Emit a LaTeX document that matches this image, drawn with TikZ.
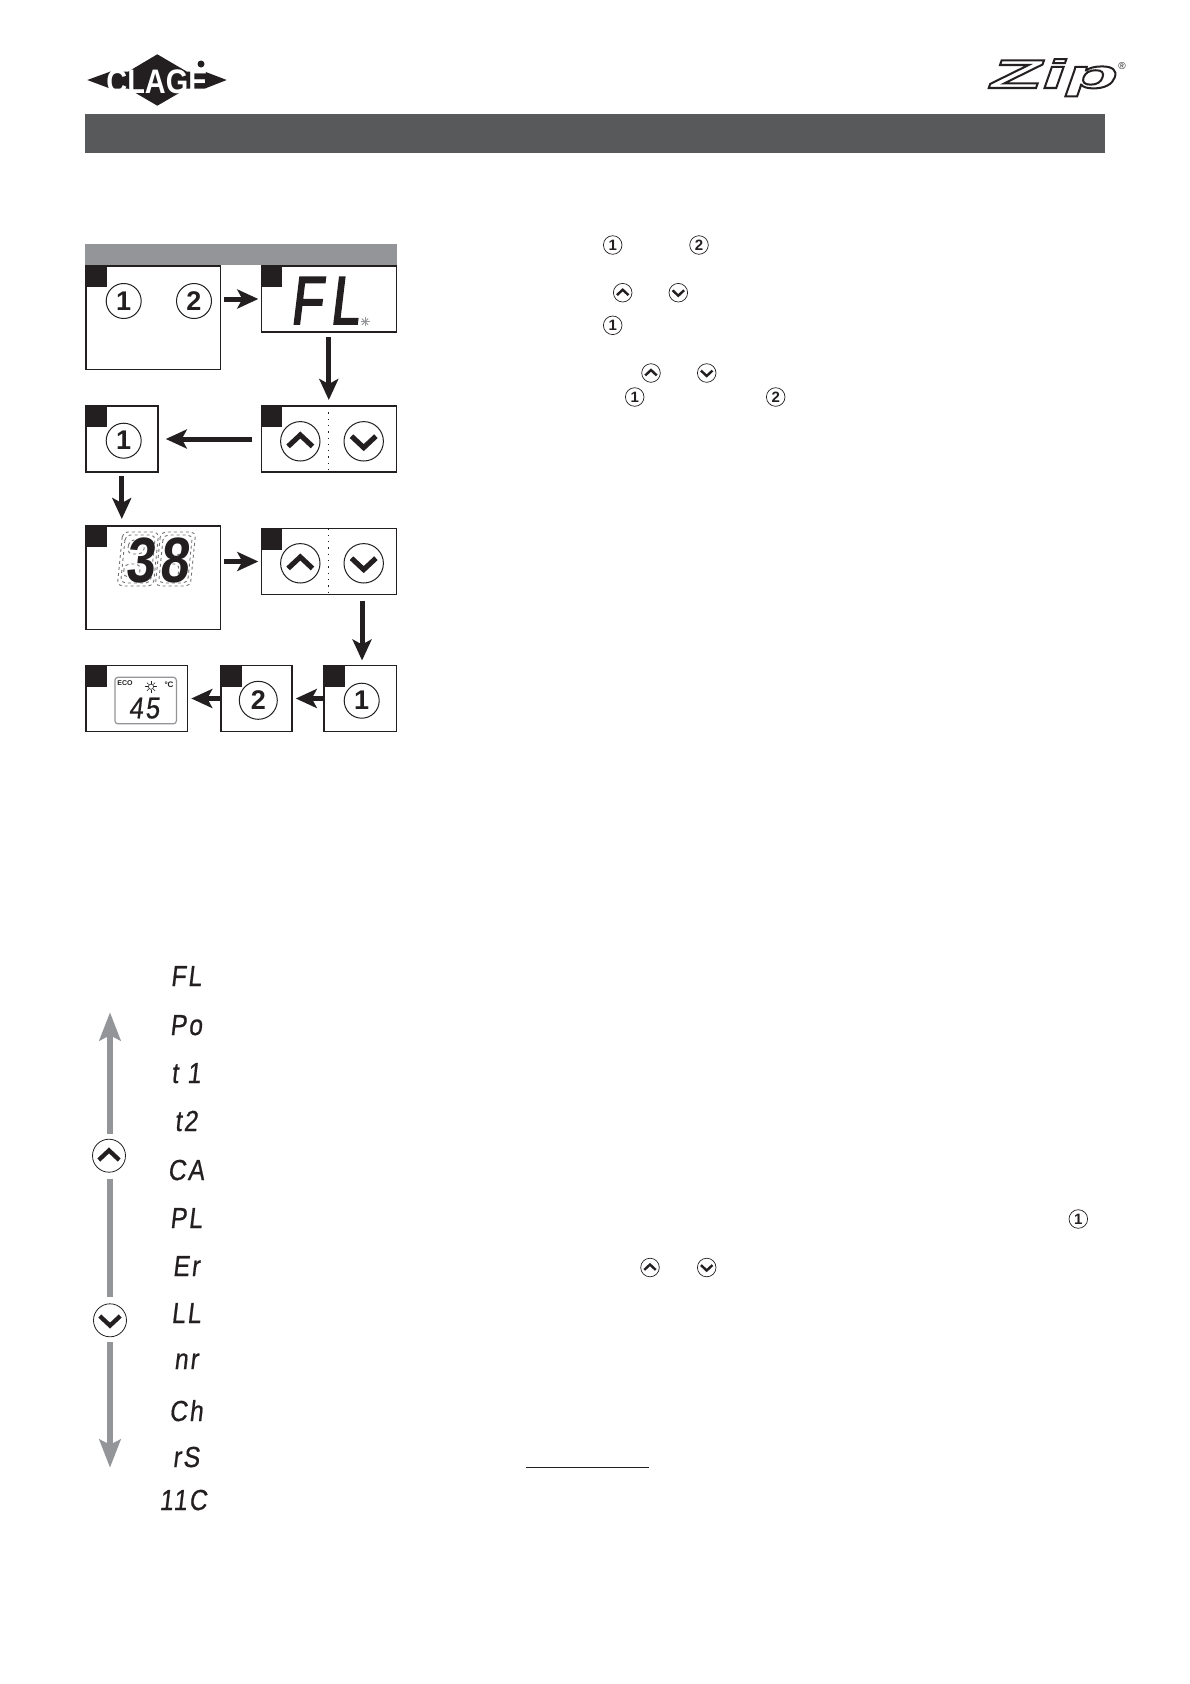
\documentclass[tikz,border=0pt]{standalone}
\usepackage{fontspec}
\usepackage{xcolor}
\usepackage{tikz}
\usetikzlibrary{arrows.meta, positioning, calc}
\setmainfont{Liberation Sans}
\newfontfamily\segfont[FakeStretch=0.85,LetterSpace=7,FakeSlant=0.12,FakeBold=0.6]{Liberation Sans}
\newfontfamily\seglarge[FakeStretch=0.76,LetterSpace=12,FakeSlant=0.12,FakeBold=2.6]{Liberation Sans}
\newfontfamily\segheavy[FakeStretch=0.82,LetterSpace=8,FakeSlant=0.1]{Liberation Sans Bold}
\newfontfamily\clagefont[FakeStretch=0.85]{Liberation Sans Bold}
\newfontfamily\zipfont[FakeStretch=2.14,FakeSlant=0.35,FakeBold=5]{Liberation Sans Bold}
\definecolor{inkblack}{HTML}{231F20}
\definecolor{barslate}{HTML}{58595B}
\definecolor{bargrey}{HTML}{939598}

\begin{document}
\begin{tikzpicture}[
    x=1pt, y=-1pt,
    panel/.style={rectangle, draw=inkblack, line width=1.5pt, fill=white, outer sep=0pt, inner sep=0pt, minimum width=#1, anchor=north west},
    tabmark/.style={rectangle, fill=inkblack, minimum size=21pt, inner sep=0pt, outer sep=0pt, anchor=north west},
    bar/.style={rectangle, inner sep=0pt, outer sep=0pt, anchor=north west},
    bignum/.style={circle, draw=inkblack, line width=1pt, inner sep=0pt, minimum size=35pt, text=inkblack, font=\fontsize{27}{27}\selectfont\bfseries},
    smallnum/.style={circle, draw=inkblack, line width=0.7pt, inner sep=0pt, minimum size=18.6pt, text=inkblack, font=\fontsize{15}{15}\selectfont\bfseries},
    keyup/.style={circle, draw=inkblack, line width=0.8pt, inner sep=0pt, minimum size=#1, path picture={
        \draw[inkblack, line width=0.13*#1] ([shift={(-.31*#1,-.13*#1)}]path picture bounding box.center) -- ([shift={(0,.16*#1)}]path picture bounding box.center) -- ([shift={(.31*#1,-.13*#1)}]path picture bounding box.center);}},
    keydown/.style={circle, draw=inkblack, line width=0.8pt, inner sep=0pt, minimum size=#1, path picture={
        \draw[inkblack, line width=0.13*#1] ([shift={(-.31*#1,.13*#1)}]path picture bounding box.center) -- ([shift={(0,-.16*#1)}]path picture bounding box.center) -- ([shift={(.31*#1,.13*#1)}]path picture bounding box.center);}},
    seglabel/.style={anchor=base, inner sep=0pt, text=inkblack, font=\fontsize{29}{29}\selectfont\segfont},
    arrow/.style={-{Stealth[length=21pt, width=19pt, inset=5pt]}, line width=5pt, draw=inkblack},
    greyarrow/.style={-{Stealth[length=28pt, width=21pt, inset=5pt]}, line width=6pt, draw=bargrey},
    greystem/.style={line width=6pt, draw=bargrey}
]

\useasboundingbox (0,0) rectangle (1190,1684);

% logos
\fill[inkblack] (87.3,80) -- (110,71.7) -- (128,71.7) -- (157.3,54.3) -- (187,71.7) -- (205,71.7) -- (226.7,80) -- (205,88.5) -- (187,88.5) -- (157.3,105.7) -- (128,88.5) -- (110,88.5) -- cycle;
\node[draw=none, fill=inkblack, inner sep=0pt, minimum size=7pt, circle] (clagedot) at (201,64) {};
\node[inner sep=0pt, text=white, font=\fontsize{34}{34}\selectfont\clagefont] (clage) at (157,82) {CLAGE};
\node[inner sep=0pt, anchor=base west, font=\fontsize{40}{40}\selectfont\zipfont] (zip) at (986,88) {\color{white}\special{pdf:code 0.14 0.12 0.13 RG}Zip};
\node[inner sep=0pt, text=inkblack, font=\fontsize{10}{10}\selectfont] (zipreg) at (1122,66) {®};

% bars
\node[bar, fill=barslate, minimum width=1020pt, minimum height=39pt] (header) at (85,114) {};
\node[bar, fill=bargrey, minimum width=312pt, minimum height=21pt] (stepbar) at (85,244) {};

% sequence of panels
\node[panel=134.5pt, minimum height=103.5pt] (s1) at (85.8,266) {};
\node[panel=135pt, minimum height=66pt, right=41pt of s1.north east, anchor=north west] (s2) {};
\node[panel=72pt, minimum height=66pt, below=36.5pt of s1.south west, anchor=north west] (s3) {};
\node[panel=135pt, minimum height=66pt, below=74pt of s2.south west, anchor=north west] (s4) {};
\node[panel=134.5pt, minimum height=103.5pt, below=54pt of s3.south west, anchor=north west] (s5) {};
\node[panel=135pt, minimum height=66pt, below=56.5pt of s4.south west, anchor=north west] (s6) {};
\node[panel=72.5pt, minimum height=66pt, below=71pt of s6.south east, anchor=north east] (s9) {};
\node[panel=71pt, minimum height=66pt, left=32pt of s9.north west, anchor=north east] (s8) {};
\node[panel=101.5pt, minimum height=66pt, left=33.5pt of s8.north west, anchor=north east] (s7) {};
\foreach \b in {s1,s2,s3,s4,s5,s6,s7,s8,s9}
    \node[tabmark] (tab\b) at (\b.north west) {};

% panel contents
\node[bignum] (s1one) at (123.7,301) {1};
\node[bignum] (s1two) at (194,301) {2};
\node[anchor=base, inner sep=0pt, text=inkblack, font=\fontsize{68}{68}\selectfont\seglarge] (s2text) at (324.5,324) {FL};
\foreach \a in {0,45,...,315}
    \draw[bargrey, line width=0.8pt] (365,321.7) -- ++(\a:4.5);
\node[bignum] (s3one) at (123.7,440.7) {1};
\node[keyup=39.4pt, line width=1pt] (s4up) at (300.3,441.3) {};
\node[keydown=39.4pt, line width=1pt] (s4down) at (363.7,441.3) {};
\draw[inkblack, line width=1.2pt, dash pattern=on 1.3pt off 5pt] (s4.north) -- (s4.south);
\begin{scope}[shift={(157,559)}, xslant=.1, draw=black!55, line width=0.9pt, dashed, rounded corners=5pt]
    \foreach \o in {0,3} {
        \draw (-37+\o,-27+\o) rectangle (-1-\o,27-\o);
        \draw (1+\o,-27+\o) rectangle (36-\o,27-\o);
    }
    \draw (9,-19) rectangle (25,-4);
    \draw (7,5) rectangle (23,19);
    \draw (-30,-19) rectangle (-14,-5);
    \draw (-32,5) rectangle (-16,18);
\end{scope}
\node[anchor=base, inner sep=0pt, text=inkblack, font=\fontsize{64}{64}\selectfont\segheavy] (s5text) at (157,582) {38};
\node[keyup=39.4pt, line width=1pt] (s6up) at (300.3,563.3) {};
\node[keydown=39.4pt, line width=1pt] (s6down) at (363.7,563.3) {};
\draw[inkblack, line width=1.2pt, dash pattern=on 1.3pt off 5pt] (s6.north) -- (s6.south);
\node[rectangle, draw=bargrey, line width=1.2pt, rounded corners=3pt, minimum width=61.5pt, minimum height=46.5pt, inner sep=0pt, anchor=north west] (lcd) at (114.3,676.7) {};
\node[inner sep=0pt, text=inkblack, font=\fontsize{7}{7}\selectfont\bfseries] (lcdeco) at (125,683.3) {ECO};
\foreach \a in {0,45,...,315}
    \draw[inkblack, line width=0.6pt] (151,686.7) ++(\a:3.2) -- ++(\a:2.6);
\draw[inkblack, line width=0.6pt] (151,686.7) circle (2.6);
\node[inner sep=0pt, text=inkblack, font=\fontsize{8}{8}\selectfont\bfseries] (lcdunit) at (169,685) {°C};
\node[anchor=base, inner sep=0pt, text=inkblack, font=\fontsize{30}{30}\selectfont\segfont] (lcdtemp) at (144,718.3) {45};
\node[bignum, minimum size=38pt] (s8two) at (258.3,700.3) {2};
\node[bignum] (s9one) at (361.7,700.7) {1};

% connectors
\draw[arrow, shorten <=4pt, shorten >=3pt] (s1.east |- s2.west) -- (s2.west);
\draw[arrow, shorten <=5pt, shorten >=6pt] (s2.south) -- (s4.north);
\draw[arrow, shorten <=9pt, shorten >=8pt] (s4.west) -- (s3.east);
\draw[arrow, shorten <=4pt, shorten >=7pt] (s3.south) -- (s3.south |- s5.north);
\draw[arrow, shorten <=4pt, shorten >=3pt] (s5.east |- s6.west) -- (s6.west);
\draw[arrow, shorten <=6pt, shorten >=5pt] ([xshift=2pt]s9.north |- s6.south) -- ([xshift=2pt]s9.north);
\draw[arrow, shorten >=4pt] (s9.west) -- (s8.east);
\draw[arrow, shorten >=4pt] (s8.west) -- (s7.east);

% right column keys
\node[smallnum] (t1one) at (612.7,245) {1};
\node[smallnum] (t1two) at (699,245) {2};
\node[keyup=18.6pt, line width=0.7pt] (t2up) at (622.7,292.7) {};
\node[keydown=18.6pt, line width=0.7pt] (t2down) at (678.3,292.7) {};
\node[smallnum] (t3one) at (612.7,325.3) {1};
\node[keyup=18.6pt, line width=0.7pt] (t4up) at (651,373) {};
\node[keydown=18.6pt, line width=0.7pt] (t4down) at (706.7,373) {};
\node[smallnum] (t5one) at (634.7,397) {1};
\node[smallnum] (t5two) at (775.7,397) {2};
\node[smallnum] (m1one) at (1078.3,1219) {1};
\node[keyup=18.6pt, line width=0.7pt] (m2up) at (650,1267.5) {};
\node[keydown=18.6pt, line width=0.7pt] (m2down) at (706.7,1267.5) {};

% menu arrows
\node[keyup=33pt] (menuup) at (109,1155.7) {};
\node[keydown=33pt] (menudown) at (110,1320.3) {};
\coordinate (menutop) at (110,1012.3);
\coordinate (menubottom) at (110,1467.7);
\draw[greyarrow, shorten <=5pt] (menutop |- menuup.north) -- (menutop);
\draw[greystem, shorten <=6pt, shorten >=6pt] (menutop |- menuup.south) -- (menutop |- menudown.north);
\draw[greyarrow, shorten <=5pt] (menudown.south) -- (menubottom);

% menu labels
\node[seglabel] (mfl) at (186,986) {FL};
\node[seglabel] (mpo) at (186,1035) {Po};
\node[seglabel] (mta) at (186,1083) {t 1};
\node[seglabel] (mtb) at (186,1131) {t2};
\node[seglabel] (mca) at (186,1180) {CA};
\node[seglabel] (mpl) at (186,1228) {PL};
\node[seglabel] (mer) at (186,1276) {Er};
\node[seglabel] (mll) at (186,1323) {LL};
\node[seglabel] (mnr) at (186,1369) {nr};
\node[seglabel] (mch) at (186,1421) {Ch};
\node[seglabel] (mrs) at (186,1467) {rS};
\node[seglabel] (mic) at (183,1510) {11C};

% rule under the hidden line
\coordinate (rulestart) at (526,1467);
\coordinate (ruleend) at (649,1467);
\draw[inkblack, line width=1pt] (rulestart) -- (ruleend);

\end{tikzpicture}
\end{document}
